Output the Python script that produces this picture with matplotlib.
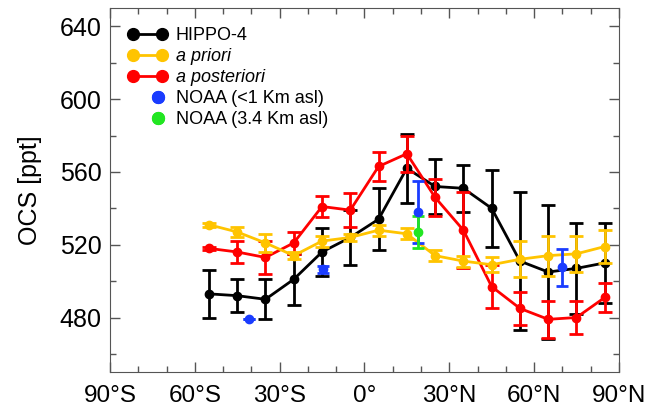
import matplotlib
matplotlib.use('Agg')
import numpy as np
import matplotlib.pyplot as plt
from matplotlib.lines import Line2D
from matplotlib.legend_handler import HandlerLine2D
from matplotlib.ticker import MultipleLocator

plt.rcParams['font.family'] = ['Liberation Sans', 'DejaVu Sans']

# latitude bins (deg)
lat = [-55, -45, -35, -25, -15, -5, 5, 15, 25, 35, 45, 55, 65, 75, 85]

# HIPPO-4 observations
hippo = [493, 492, 490, 501, 516, 524, 534, 562, 552, 551, 540, 511, 505, 507, 510]
hippo_err = [13, 9, 11, 14, 13, 15, 17, 19, 15, 13, 21, 38, 37, 25, 22]

# a priori model
prior = [531, 527, 521, 514, 522, 524, 528, 526, 514, 511, 509, 512, 514, 515, 519]
prior_err = [1, 2.5, 5, 2, 3, 2, 3, 3, 3, 3, 4, 10, 11, 10, 9]

# a posteriori model
post = [518, 516, 513, 521, 541, 539, 563, 570, 546, 528, 497, 485, 479, 480, 491]
post_err = [1, 6, 9, 6, 5.5, 9.5, 8, 10, 10, 21, 12, 9, 10, 9, 8]

# NOAA surface (<1 km) and Mauna Loa (3.4 km)
noaa_lat = [-41, -14.5, 19, 70]
noaa = [479, 506.5, 538, 507.5]
noaa_err = [0, 2, 17, 10]
mlo_lat = [19]
mlo = [527]
mlo_err = [9]

xtick_vals = [-90, -60, -30, 0, 30, 60, 90]
xtick_labels = ['90°S', '60°S', '30°S', '0°', '30°N', '60°N', '90°N']

BLACK = 'black'
YELLOW = '#ffc400'
RED = '#ff0000'
BLUE = '#1a3cff'
GREEN = '#22e622'


class RightDot(HandlerLine2D):
    # single legend marker sitting near the right end of the handle
    def get_xdata(self, legend, xdescent, ydescent, width, height, fontsize):
        xm = -xdescent + 0.75 * width
        return np.array([xm, xm]), np.array([xm])


fig = plt.figure(figsize=(6.45, 4.08), dpi=100)
ax = fig.add_axes([0.1705, 0.088, 0.789, 0.892])

kw = dict(marker='o', markersize=6, linewidth=2.0, elinewidth=2.0,
          capsize=5, capthick=2.0)
ax.errorbar(lat, hippo, yerr=hippo_err, color=BLACK, zorder=2, **kw)
ax.errorbar(lat, post, yerr=post_err, color=RED, zorder=3, **kw)
ax.errorbar(lat, prior, yerr=prior_err, color=YELLOW, zorder=4, **kw)
ax.errorbar(noaa_lat, noaa, yerr=noaa_err, color=BLUE, fmt='o', markersize=6,
            elinewidth=2.0, capsize=4, capthick=2.0, zorder=5)
ax.errorbar(mlo_lat, mlo, yerr=mlo_err, color=GREEN, fmt='o', markersize=6,
            elinewidth=2.0, capsize=4, capthick=2.0, zorder=5)

ax.set_xlim(-90, 90)
ax.set_ylim(450, 650)
ax.set_xticks(xtick_vals)
ax.set_xticklabels(xtick_labels)
ax.xaxis.set_minor_locator(MultipleLocator(10))
ax.set_yticks([480, 520, 560, 600, 640])
ax.yaxis.set_minor_locator(MultipleLocator(20))
ax.tick_params(which='both', direction='in', top=True, right=True, color='#555555')
ax.tick_params(axis='y', pad=6, labelsize=18)
ax.tick_params(axis='x', pad=9, labelsize=17.5)
ax.tick_params(which='major', length=7, width=1)
ax.tick_params(which='minor', length=4, width=1)
for s in ax.spines.values():
    s.set_color('#555555')
ax.set_ylabel('OCS [ppt]', fontsize=18, labelpad=13)

lkw = dict(marker='o', markersize=8.5, linewidth=2.0)
handles = [
    Line2D([], [], color=BLACK, **lkw),
    Line2D([], [], color=YELLOW, **lkw),
    Line2D([], [], color=RED, **lkw),
    Line2D([], [], color=BLUE, marker='o', markersize=8.5, linestyle='none'),
    Line2D([], [], color=GREEN, marker='o', markersize=8.5, linestyle='none'),
]
labels = ['HIPPO-4', 'a priori', 'a posteriori', 'NOAA (<1 Km asl)', 'NOAA (3.4 Km asl)']
leg = ax.legend(handles, labels, loc='upper left', bbox_to_anchor=(0.035, 0.948),
                frameon=False, numpoints=2, fontsize=13, handlelength=2.2,
                handletextpad=0.45, labelspacing=0.22, borderaxespad=0, borderpad=0,
                handler_map={handles[3]: RightDot(), handles[4]: RightDot()})
for t in leg.get_texts():
    if t.get_text().startswith('a '):
        t.set_style('italic')

fig.savefig('out.png', dpi=100)
